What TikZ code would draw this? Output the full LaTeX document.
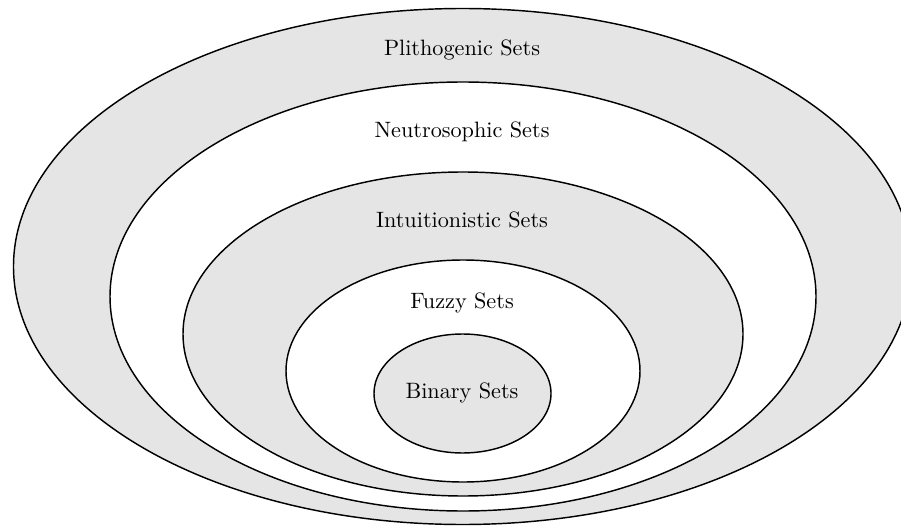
\documentclass[tikz,border=0pt]{standalone}
\usetikzlibrary{shapes.geometric}
\begin{document}
\begin{tikzpicture}[x=0.45pt, y=-0.45pt,
  setring/.style={ellipse, draw=black, line width=0.65pt, inner sep=0pt},
  shaded/.style={setring, fill=black!10},
  plain/.style={setring, fill=white},
  setlabel/.style={anchor=base, inner sep=0pt}]
  \useasboundingbox (0,0) rectangle (901,527);
  % nested sets, drawn from the outside in
  \node[shaded, minimum width=898*0.45pt, minimum height=516*0.45pt] (plith) at (462.5,266.5) {};
  \node[plain,  minimum width=706*0.45pt, minimum height=429*0.45pt] (neutro) at (463,296.5) {};
  \node[shaded, minimum width=560*0.45pt, minimum height=324*0.45pt] (intuit) at (463,334) {};
  \node[plain,  minimum width=354*0.45pt, minimum height=222*0.45pt] (fuzzy) at (463,371) {};
  \node[shaded, minimum width=177*0.45pt, minimum height=119*0.45pt] (binary) at (462.5,393.5) {};
  % labels
  \node[setlabel] (plithT)  at (462,56)    {Plithogenic Sets};
  \node[setlabel] (neutroT) at (462,138)   {Neutrosophic Sets};
  \node[setlabel] (intuitT) at (462,228)   {Intuitionistic Sets};
  \node[setlabel] (fuzzyT)  at (462,308)   {Fuzzy Sets};
  \node[setlabel] (binaryT) at (462,398.5) {Binary Sets};
\end{tikzpicture}
\end{document}
